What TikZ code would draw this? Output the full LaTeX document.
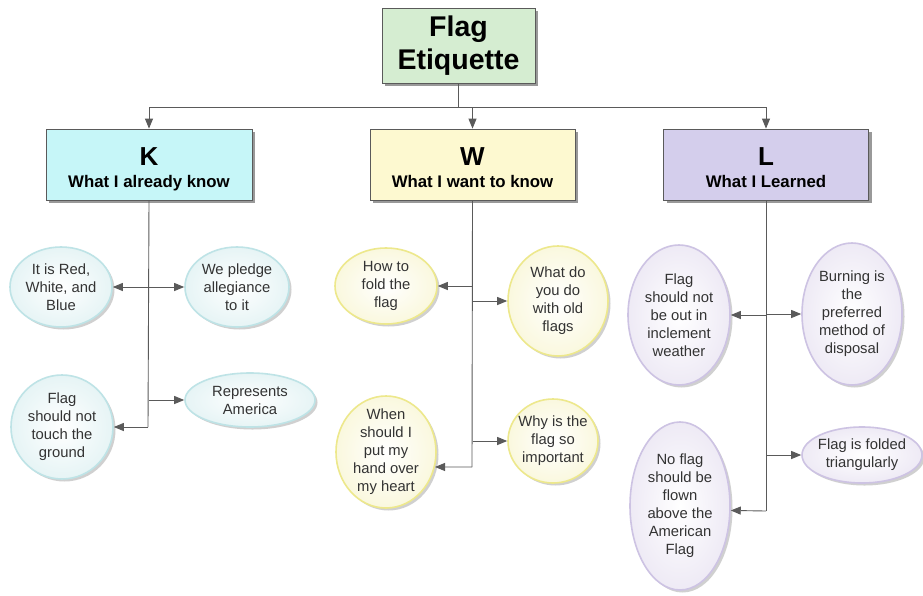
\documentclass[tikz,border=0pt]{standalone}
\usepackage{fontspec}
\setmainfont{Liberation Sans}
\usetikzlibrary{shapes.geometric,arrows.meta,shadows}
\definecolor{linegray}{HTML}{5A5A5A}
\definecolor{titlefill}{HTML}{D5EDD1}
\definecolor{kfill}{HTML}{C6F6F8}
\definecolor{wfill}{HTML}{FDF9D0}
\definecolor{lfill}{HTML}{D4CEEC}
\definecolor{kedge}{HTML}{BEE3E6}
\definecolor{wedge}{HTML}{EDE88C}
\definecolor{ledge}{HTML}{CDC3E3}
\definecolor{ktint}{HTML}{E6F4F5}
\definecolor{wtint}{HTML}{FAF8DE}
\definecolor{ltint}{HTML}{EEEAF5}
\definecolor{txtgray}{HTML}{333333}
\newcommand\bubble[6]{%
  \node[#1, minimum width=#4pt, minimum height=#5pt] (#2) at #3 {};
  \node[bubbletext] (#2-t) at (#2) {#6};
}
\newcommand\hdr[2]{{\fontsize{26}{22}\selectfont #1}\\{\fontsize{16.8}{22}\selectfont #2}}
\begin{document}
\begin{tikzpicture}[x=1pt,y=-1pt,
  hdrbox/.style={draw=linegray, line width=0.8pt, inner sep=0pt, align=center,
    drop shadow={shadow xshift=3pt, shadow yshift=-3pt, fill=black!50, opacity=0.8}},
  sectbox/.style={hdrbox, minimum width=205pt, minimum height=71pt,
    font=\bfseries\fontsize{16.8}{22}\selectfont, text height=45pt, text depth=0pt},
  bubblebase/.style={ellipse, inner sep=0pt, line width=1.6pt,
    drop shadow={shadow xshift=2.5pt, shadow yshift=-2.5pt, fill=black!30, opacity=0.6}},
  kbub/.style={bubblebase, draw=kedge, inner color=white, outer color=ktint},
  wbub/.style={bubblebase, draw=wedge, inner color=white, outer color=wtint},
  lbub/.style={bubblebase, draw=ledge, inner color=white, outer color=ltint},
  bubbletext/.style={align=center, font=\fontsize{14.8}{18}\selectfont, text=txtgray, inner sep=0pt},
  arr/.style={draw=linegray, line width=0.9pt, -{Triangle[length=10pt,width=8pt]}},
  ln/.style={draw=linegray, line width=0.9pt}
]
\useasboundingbox (0,0) rectangle (923,595);
\fill[white] (0,0) rectangle (923,595);

% header boxes
\node[hdrbox, fill=titlefill, minimum width=153pt, minimum height=75pt,
  font=\bfseries\fontsize{28.5}{33}\selectfont] (title) at (458.5,45.5) {Flag\\Etiquette};
\node[sectbox, fill=kfill, minimum width=206pt] (K) at (149,164.5) {\hdr{K}{What I already know}};
\node[sectbox, fill=wfill] (W) at (472.5,164.5) {\hdr{W}{What I want to know}};
\node[sectbox, fill=lfill] (L) at (766,164.5) {\hdr{L}{What I Learned}};

% top connectors
\coordinate (split) at (458.5,107);
\draw[ln] (title.south) -- (split);
\draw[arr] (split) -| (K.north);
\draw[arr] (split) -| (W.north);
\draw[arr] (split) -| (L.north);

% K bubbles
\bubble{kbub}{k1}{(61,287)}{102}{80}{It is Red,\\White, and\\Blue}
\bubble{kbub}{k2}{(237,287)}{104}{80}{We pledge\\allegiance\\to it}
\bubble{kbub}{k3}{(62,427)}{102}{104}{Flag\\should not\\touch the\\ground}
\bubble{kbub}{k4}{(250,400)}{130}{54}{Represents\\America}
\coordinate (kend) at (148,427);
\draw[ln] (K.south) -- (kend);
\draw[arr] (K.south |- k1.east) -- (k1.east);
\draw[arr] (K.south |- k2.west) -- (k2.west);
\draw[arr] (kend) -- (k3.east);
\draw[arr] (K.south |- k4.west) -- (k4.west);

% W bubbles
\bubble{wbub}{w1}{(386,286)}{102}{76}{How to\\fold the\\flag}
\bubble{wbub}{w2}{(558,301)}{100}{110}{What do\\you do\\with old\\flags}
\bubble{wbub}{w3}{(386,452)}{100}{112}{When\\should I\\put my\\hand over\\my heart}
\bubble{wbub}{w4}{(553,441)}{90}{84}{Why is the\\flag so\\important}
\coordinate (wend) at (472,467);
\draw[ln] (W.south) -- (wend);
\draw[arr] (W.south |- w1.east) -- (w1.east);
\draw[arr] (W.south |- w2.west) -- (w2.west);
\draw[arr] (wend) -- (w3.-17);
\draw[arr] (W.south |- w4.west) -- (w4.west);

% L bubbles
\bubble{lbub}{l1}{(679,315)}{102}{140}{Flag\\should not\\be out in\\inclement\\weather}
\bubble{lbub}{l2}{(852,314)}{100}{142}{Burning is\\the\\preferred\\method of\\disposal}
\bubble{lbub}{l3}{(862,455)}{120}{56}{Flag is folded\\triangularly}
\bubble{lbub}{l4}{(680,506)}{100}{168}{No flag\\should be\\flown\\above the\\American\\Flag}
\coordinate (lend) at (766,511);
\draw[ln] (L.south) -- (lend);
\draw[arr] (L.south |- l1.east) -- (l1.east);
\draw[arr] (L.south |- l2.west) -- (l2.west);
\draw[arr] (L.south |- l3.west) -- (l3.west);
\draw[arr] (lend) -- (l4.-5);
\end{tikzpicture}
\end{document}
